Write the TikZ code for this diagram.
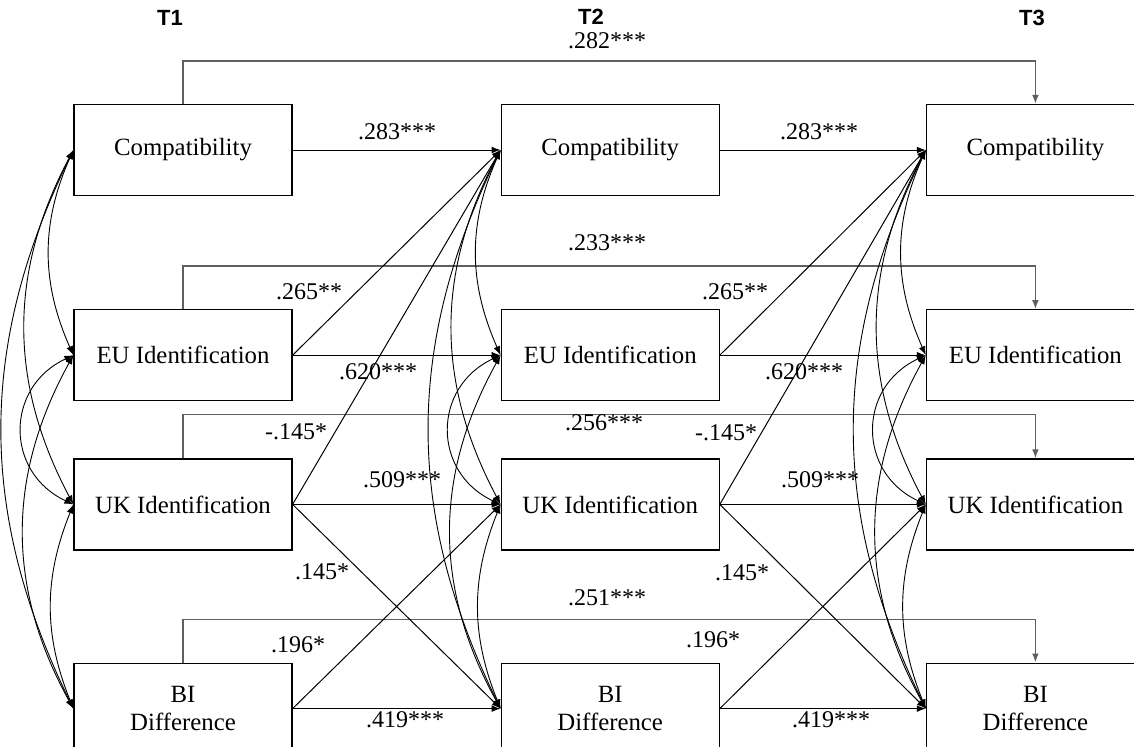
\documentclass[tikz,border=0pt]{standalone}
\usepackage{fontspec}
\setmainfont{Liberation Serif}
\newfontfamily\headfont{Liberation Sans}
\usetikzlibrary{positioning, arrows.meta}
\tikzstyle{construct} = [
    rectangle,
    minimum width = 109pt,
    minimum height = 45.5pt,
    text centered,
    align = center,
    draw = black,
    line width = 0.6pt,
    font = \fontsize{12.4}{14}\selectfont,
]
\tikzstyle{coefbox} = [inner sep = 0pt, font = \fontsize{12}{14}\selectfont]
\tikzstyle{timelabel} = [inner sep = 0pt, font = \headfont\bfseries\fontsize{11}{12}\selectfont]
\tikzstyle{regline} = [->, line width = 0.5pt]
\tikzstyle{covline} = [<->, line width = 0.45pt]
\tikzstyle{lagline} = [->, draw = gray!75!black, line width = 0.8pt]
\tikzset{>={Latex[length=4.5pt, width=3.4pt]}}

\begin{document}
\begin{tikzpicture} [x = 0.5pt, y = -0.5pt]
    \useasboundingbox (0, 0) rectangle (1134, 746);

    % waves
    \node (T1) [timelabel] at (170, 18) {T1};
    \node (T2) [timelabel] at (591, 17) {T2};
    \node (T3) [timelabel] at (1032, 18) {T3};

    % T1
    \node (C1) [construct] at (183, 150) {Compatibility};
    \node (E1) [construct, below = 56.5pt of C1] {EU Identification};
    \node (U1) [construct, below = 28.5pt of E1] {UK Identification};
    \node (B1) [construct, below = 56pt of U1] {BI\\Difference};

    % T2
    \node (C2) [construct, right = 104pt of C1] {Compatibility};
    \node (E2) [construct, right = 104pt of E1] {EU Identification};
    \node (U2) [construct, right = 104pt of U1] {UK Identification};
    \node (B2) [construct, right = 104pt of B1] {BI\\Difference};

    % T3
    \node (C3) [construct, right = 103pt of C2] {Compatibility};
    \node (E3) [construct, right = 103pt of E2] {EU Identification};
    \node (U3) [construct, right = 103pt of U2] {UK Identification};
    \node (B3) [construct, right = 103pt of B2] {BI\\Difference};

    % T1 -> T3
    \draw[lagline] (C1.north) -- ++(0, -43) -| (C3.north);
    \draw[lagline] (E1.north) -- ++(0, -43) -| (E3.north);
    \draw[lagline] (U1.north) -- ++(0, -44) -| (U3.north);
    \draw[lagline] (B1.north) -- ++(0, -43) -| (B3.north);

    % cross-lagged paths
    \foreach \a/\b in {1/2, 2/3} {
        \draw[regline] (C\a.east) -- (C\b.west);
        \draw[regline] (E\a.east) -- (C\b.west);
        \draw[regline] (E\a.east) -- (E\b.west);
        \draw[regline] (U\a.east) -- (C\b.west);
        \draw[regline] (U\a.east) -- (U\b.west);
        \draw[regline] (U\a.east) -- (B\b.west);
        \draw[regline] (B\a.east) -- (U\b.west);
        \draw[regline] (B\a.east) -- (B\b.west);
    }

    % covariances
    \foreach \c in {1, 2, 3} {
        \draw[covline] (C\c.west) to[bend right = 26] (B\c.west);
        \draw[covline] (C\c.west) to[bend right = 28] (U\c.west);
        \draw[covline] (C\c.west) to[bend right = 24] (E\c.west);
        \draw[covline] (E\c.west) to[bend right = 65, looseness = 1.3] (U\c.west);
        \draw[covline] (E\c.west) to[bend right = 29] (B\c.west);
        \draw[covline] (U\c.west) to[bend right = 22] (B\c.west);
    }

    % coefficients
    \node (kC13) [coefbox] at (607, 41) {.282***};
    \node (kE13) [coefbox] at (607, 243) {.233***};
    \node (kU13) [coefbox] at (604, 423) {.256***};
    \node (kB13) [coefbox] at (607, 598) {.251***};

    \node (kCC12) [coefbox] at (397, 132) {.283***};
    \node (kEC12) [coefbox] at (309, 292) {.265**};
    \node (kEE12) [coefbox] at (378, 372) {.620***};
    \node (kUC12) [coefbox] at (296, 432) {-.145*};
    \node (kUU12) [coefbox] at (402, 480) {.509***};
    \node (kUB12) [coefbox] at (322, 572) {.145*};
    \node (kBU12) [coefbox] at (298, 645) {.196*};
    \node (kBB12) [coefbox] at (405, 720) {.419***};

    \node (kCC23) [coefbox] at (819, 132) {.283***};
    \node (kEC23) [coefbox] at (735, 292) {.265**};
    \node (kEE23) [coefbox] at (804, 372) {.620***};
    \node (kUC23) [coefbox] at (726, 433) {-.145*};
    \node (kUU23) [coefbox] at (820, 480) {.509***};
    \node (kUB23) [coefbox] at (742, 573) {.145*};
    \node (kBU23) [coefbox] at (713, 640) {.196*};
    \node (kBB23) [coefbox] at (831, 720) {.419***};
\end{tikzpicture}
\end{document}
